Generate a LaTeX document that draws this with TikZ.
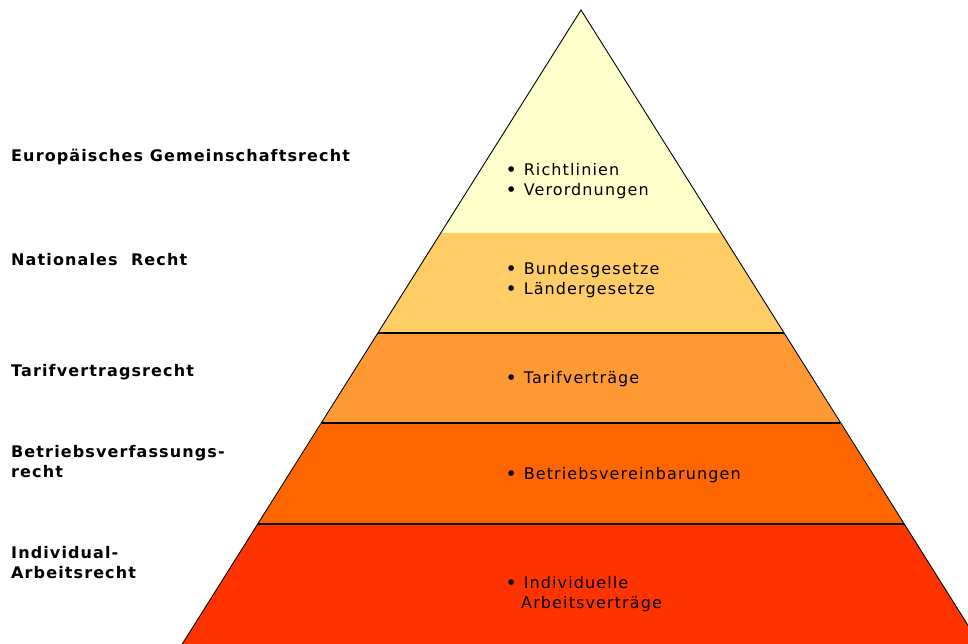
\documentclass[tikz,border=0pt]{standalone}
\usepackage{fontspec}
\setmainfont{DejaVu Sans}[LetterSpace=7]
\usetikzlibrary{positioning}

\definecolor{euyellow}{HTML}{FFFFCC}
\definecolor{natorange}{HTML}{FFCC66}
\definecolor{tariforange}{HTML}{FF9933}
\definecolor{betrorange}{HTML}{FF6600}
\definecolor{indred}{HTML}{FF3300}
\newcommand{\itm}{\textbf{•}\ }

\begin{document}
\begin{tikzpicture}[x=1pt, y=-1pt,
  level/.style={font=\fontsize{16}{20}\selectfont\bfseries, align=left, anchor=base west, inner sep=0pt},
  items/.style={font=\fontsize{16}{20}\selectfont, align=left, anchor=base west, inner sep=0pt},
  sep/.style={line width=2pt},
  edge/.style={line width=0.9pt}
]
\useasboundingbox (0,0) rectangle (968,644);
\clip (0,0) rectangle (968,644);
% pyramid corners
\coordinate (apex) at (581,10);
\coordinate (l1) at (441,233); \coordinate (r1) at (721,233);
\coordinate (l2) at (378,333); \coordinate (r2) at (784,333);
\coordinate (l3) at (322,423); \coordinate (r3) at (840,423);
\coordinate (l4) at (258,524); \coordinate (r4) at (904,524);
\coordinate (l5) at (181,646); \coordinate (r5) at (981,646);
% layers
\fill[euyellow] (apex) -- (r1) -- (l1) -- cycle;
\fill[natorange] (l1) -- (r1) -- (r2) -- (l2) -- cycle;
\fill[tariforange] (l2) -- (r2) -- (r3) -- (l3) -- cycle;
\fill[betrorange] (l3) -- (r3) -- (r4) -- (l4) -- cycle;
\fill[indred] (l4) -- (r4) -- (r5) -- (l5) -- cycle;
\draw[edge] (l5) -- (apex) -- (r5);
\draw[sep] (l2) -- (r2);
\draw[sep] (l3) -- (r3);
\draw[sep] (l4) -- (r4);
% labels left (base = last line)
\node[level] (eu) at (11,162) {Europäisches Gemeinschaftsrecht};
\node[level] (nat) at (11,265) {Nationales\ \ Recht};
\node[level] (tarif) at (11,376) {Tarifvertragsrecht};
\node[level] (betr) at (11,477) {Betriebsverfassungs-\\recht};
\node[level] (ind) at (11,578) {Individual-\\Arbeitsrecht};
% contents
\node[items] (euitems) at (506,196) {\itm Richtlinien\\\itm Verordnungen};
\node[items] (natitems) at (506,294) {\itm Bundesgesetze\\\itm Ländergesetze};
\node[items] (tarifitems) at (506,383) {\itm Tarifverträge};
\node[items] (betritems) at (506,479) {\itm Betriebsvereinbarungen};
\node[items] (inditems) at (506,608) {\itm Individuelle\\\hspace*{15pt}Arbeitsverträge};
\end{tikzpicture}
\end{document}
